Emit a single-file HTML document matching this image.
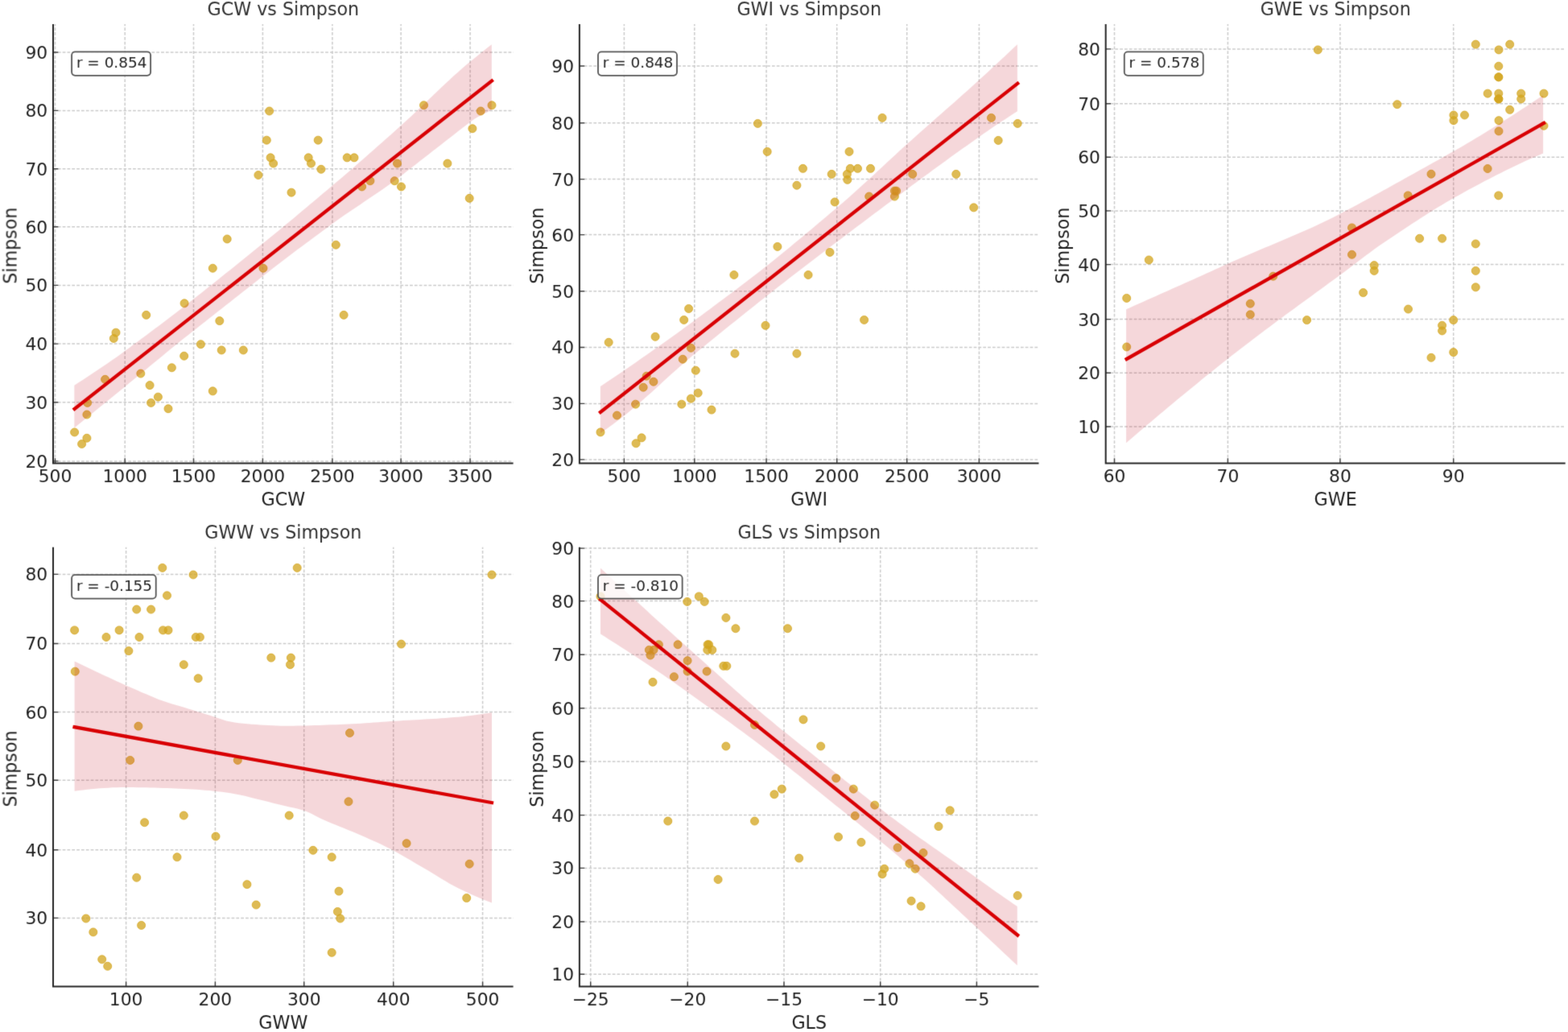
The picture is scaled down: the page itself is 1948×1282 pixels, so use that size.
<!DOCTYPE html>
<html><head><meta charset="utf-8"><title>Simpson correlations</title>
<style>
html,body{margin:0;padding:0;background:#fff;}
svg{display:block;}
text{font-family:"DejaVu Sans","Liberation Sans",sans-serif;}
</style></head><body>
<svg width="1948" height="1282" viewBox="0 0 1948 1282">
<defs><filter id="soft" x="0" y="0" width="1948" height="1282" filterUnits="userSpaceOnUse" color-interpolation-filters="sRGB"><feConvolveMatrix order="3" kernelMatrix="0.0113 0.0838 0.0113 0.0838 0.6193 0.0838 0.0113 0.0838 0.0113" edgeMode="duplicate"/></filter></defs>
<rect x="0" y="0" width="1948" height="1282" fill="#ffffff"/>
<g filter="url(#soft)">
<g>
<g stroke="#cbcbcb" stroke-width="1.5" stroke-dasharray="3.75 2.08">
<line x1="68.5" y1="575.6" x2="68.5" y2="30" stroke-dashoffset="4.56"/>
<line x1="155.2" y1="575.6" x2="155.2" y2="30" stroke-dashoffset="4.56"/>
<line x1="240.5" y1="575.6" x2="240.5" y2="30" stroke-dashoffset="4.56"/>
<line x1="326.4" y1="575.6" x2="326.4" y2="30" stroke-dashoffset="4.56"/>
<line x1="412.9" y1="575.6" x2="412.9" y2="30" stroke-dashoffset="4.56"/>
<line x1="498.1" y1="575.6" x2="498.1" y2="30" stroke-dashoffset="4.56"/>
<line x1="584.1" y1="575.6" x2="584.1" y2="30" stroke-dashoffset="4.56"/>
<line x1="66" y1="572.9" x2="637.6" y2="572.9"/>
<line x1="66" y1="499.8" x2="637.6" y2="499.8"/>
<line x1="66" y1="427.1" x2="637.6" y2="427.1"/>
<line x1="66" y1="354.4" x2="637.6" y2="354.4"/>
<line x1="66" y1="281.8" x2="637.6" y2="281.8"/>
<line x1="66" y1="209.7" x2="637.6" y2="209.7"/>
<line x1="66" y1="137.4" x2="637.6" y2="137.4"/>
<line x1="66" y1="65" x2="637.6" y2="65"/>
</g>
<g fill="#d4a520" fill-opacity="0.76" stroke="#d4a520" stroke-opacity="0.76" stroke-width="1.0">
<circle cx="92.6" cy="536.95" r="5.0"/>
<circle cx="101.6" cy="551.57" r="5.0"/>
<circle cx="107.9" cy="544.26" r="5.0"/>
<circle cx="107.9" cy="515.02" r="5.0"/>
<circle cx="108.6" cy="500.4" r="5.0"/>
<circle cx="130.6" cy="471.32" r="5.0"/>
<circle cx="141.3" cy="420.43" r="5.0"/>
<circle cx="144" cy="413.16" r="5.0"/>
<circle cx="181.7" cy="391.35" r="5.0"/>
<circle cx="174.8" cy="464.05" r="5.0"/>
<circle cx="186.1" cy="478.59" r="5.0"/>
<circle cx="196.4" cy="493.13" r="5.0"/>
<circle cx="187.6" cy="500.4" r="5.0"/>
<circle cx="209" cy="507.71" r="5.0"/>
<circle cx="213.4" cy="456.78" r="5.0"/>
<circle cx="228.7" cy="442.24" r="5.0"/>
<circle cx="229.1" cy="376.81" r="5.0"/>
<circle cx="249.4" cy="427.7" r="5.0"/>
<circle cx="264.3" cy="485.86" r="5.0"/>
<circle cx="272.8" cy="398.62" r="5.0"/>
<circle cx="275.2" cy="434.97" r="5.0"/>
<circle cx="302.3" cy="434.97" r="5.0"/>
<circle cx="264.3" cy="333.22" r="5.0"/>
<circle cx="327" cy="333.22" r="5.0"/>
<circle cx="334.6" cy="138" r="5.0"/>
<circle cx="331.3" cy="174.15" r="5.0"/>
<circle cx="336.1" cy="195.84" r="5.0"/>
<circle cx="339.6" cy="203.07" r="5.0"/>
<circle cx="320.9" cy="217.51" r="5.0"/>
<circle cx="282.2" cy="296.92" r="5.0"/>
<circle cx="362" cy="239.14" r="5.0"/>
<circle cx="395.2" cy="174.15" r="5.0"/>
<circle cx="383.2" cy="195.84" r="5.0"/>
<circle cx="386.5" cy="203.07" r="5.0"/>
<circle cx="398.9" cy="210.3" r="5.0"/>
<circle cx="431.2" cy="195.84" r="5.0"/>
<circle cx="440" cy="195.84" r="5.0"/>
<circle cx="449.6" cy="231.93" r="5.0"/>
<circle cx="459.9" cy="224.72" r="5.0"/>
<circle cx="417.3" cy="304.18" r="5.0"/>
<circle cx="493.5" cy="203.07" r="5.0"/>
<circle cx="490.2" cy="224.72" r="5.0"/>
<circle cx="498.5" cy="231.93" r="5.0"/>
<circle cx="526.5" cy="130.76" r="5.0"/>
<circle cx="555.9" cy="203.07" r="5.0"/>
<circle cx="583.2" cy="246.35" r="5.0"/>
<circle cx="586.9" cy="159.69" r="5.0"/>
<circle cx="597.2" cy="138" r="5.0"/>
<circle cx="611" cy="130.76" r="5.0"/>
<circle cx="427.1" cy="391.35" r="5.0"/>
</g>
<line x1="92.6" y1="507.94" x2="611" y2="100.44" stroke="#dd0000" stroke-width="4.3" stroke-linecap="square"/>
<polygon points="92.3,478.68 97.54,475.28 102.77,471.88 108.01,468.47 113.25,465.05 118.49,461.59 123.72,458.1 128.96,454.57 134.2,450.99 139.44,447.36 144.67,443.67 149.91,439.91 155.15,436.08 160.39,432.22 165.62,428.35 170.86,424.47 176.1,420.58 181.34,416.68 186.57,412.78 191.81,408.85 197.05,404.92 202.28,400.96 207.52,396.99 212.76,393 218,388.99 223.23,384.96 228.47,380.9 233.71,376.82 238.95,372.71 244.18,368.58 249.42,364.44 254.66,360.28 259.9,356.11 265.13,351.94 270.37,347.75 275.61,343.56 280.85,339.35 286.08,335.14 291.32,330.93 296.56,326.71 301.79,322.49 307.03,318.26 312.27,314.03 317.51,309.8 322.74,305.56 327.98,301.33 333.22,297.07 338.46,292.8 343.69,288.5 348.93,284.18 354.17,279.85 359.41,275.5 364.64,271.14 369.88,266.76 375.12,262.36 380.36,257.96 385.59,253.58 390.83,249.18 396.07,244.78 401.31,240.37 406.54,235.95 411.78,231.53 417.02,227.1 422.25,222.64 427.49,218.16 432.73,213.65 437.97,209.13 443.2,204.58 448.44,200.02 453.68,195.44 458.92,190.84 464.15,186.23 469.39,181.6 474.63,176.96 479.87,172.3 485.1,167.63 490.34,162.95 495.58,158.27 500.82,153.57 506.05,148.79 511.29,143.92 516.53,138.99 521.76,134.01 527,129 532.24,123.97 537.48,118.94 542.71,113.93 547.95,108.94 553.19,104.01 558.43,99.14 563.66,94.34 568.9,89.64 574.14,85.04 579.38,80.57 584.61,76.25 589.85,71.99 595.09,67.74 600.33,63.52 605.56,59.34 610.8,55.2 610.8,136.6 605.56,139.19 600.33,141.74 595.09,144.46 589.85,147.54 584.61,151.17 579.38,155.21 574.14,159.27 568.9,163.34 563.66,167.42 558.43,171.5 553.19,175.58 547.95,179.67 542.71,183.76 537.48,187.85 532.24,191.95 527,196.04 521.76,200.12 516.53,204.21 511.29,208.28 506.05,212.35 500.82,216.41 495.58,220.45 490.34,224.39 485.1,228.23 479.87,231.98 474.63,235.66 469.39,239.28 464.15,242.84 458.92,246.37 453.68,249.87 448.44,253.38 443.2,256.89 437.97,260.41 432.73,263.98 427.49,267.58 422.25,271.25 417.02,274.99 411.78,278.82 406.54,282.67 401.31,286.53 396.07,290.4 390.83,294.26 385.59,298.14 380.36,302.02 375.12,305.94 369.88,309.87 364.64,313.82 359.41,317.78 354.17,321.76 348.93,325.76 343.69,329.78 338.46,333.82 333.22,337.88 327.98,341.97 322.74,346.08 317.51,350.19 312.27,354.31 307.03,358.42 301.79,362.53 296.56,366.65 291.32,370.77 286.08,374.88 280.85,379.01 275.61,383.13 270.37,387.25 265.13,391.38 259.9,395.5 254.66,399.63 249.42,403.76 244.18,407.89 238.95,412.02 233.71,416.17 228.47,420.36 223.23,424.57 218,428.81 212.76,433.07 207.52,437.35 202.28,441.64 197.05,445.94 191.81,450.25 186.57,454.57 181.34,458.89 176.1,463.2 170.86,467.51 165.62,471.82 160.39,476.11 155.15,480.38 149.91,484.65 144.67,488.91 139.44,493.18 134.2,497.44 128.96,501.7 123.72,505.97 118.49,510.23 113.25,514.49 108.01,518.75 102.77,523.01 97.54,527.29 92.3,531.58" fill="rgb(192,5,24)" fill-opacity="0.16"/>
<path d="M68.5 575.6V569.3M155.2 575.6V569.3M240.5 575.6V569.3M326.4 575.6V569.3M412.9 575.6V569.3M498.1 575.6V569.3M584.1 575.6V569.3M66 572.9H72.3M66 499.8H72.3M66 427.1H72.3M66 354.4H72.3M66 281.8H72.3M66 209.7H72.3M66 137.4H72.3M66 65H72.3" stroke="#444444" stroke-width="1.4" fill="none"/>
<path d="M66 31 V575.6 H636.6" fill="none" stroke="#262626" stroke-width="2.0" stroke-linecap="square"/>
<text x="68.5" y="598.6" font-size="21.8" fill="#1e1e1e" text-anchor="middle">500</text>
<text x="155.2" y="598.6" font-size="21.8" fill="#1e1e1e" text-anchor="middle">1000</text>
<text x="240.5" y="598.6" font-size="21.8" fill="#1e1e1e" text-anchor="middle">1500</text>
<text x="326.4" y="598.6" font-size="21.8" fill="#1e1e1e" text-anchor="middle">2000</text>
<text x="412.9" y="598.6" font-size="21.8" fill="#1e1e1e" text-anchor="middle">2500</text>
<text x="498.1" y="598.6" font-size="21.8" fill="#1e1e1e" text-anchor="middle">3000</text>
<text x="584.1" y="598.6" font-size="21.8" fill="#1e1e1e" text-anchor="middle">3500</text>
<text x="59.2" y="580.8" font-size="21.8" fill="#1e1e1e" text-anchor="end">20</text>
<text x="59.2" y="507.7" font-size="21.8" fill="#1e1e1e" text-anchor="end">30</text>
<text x="59.2" y="435" font-size="21.8" fill="#1e1e1e" text-anchor="end">40</text>
<text x="59.2" y="362.3" font-size="21.8" fill="#1e1e1e" text-anchor="end">50</text>
<text x="59.2" y="289.7" font-size="21.8" fill="#1e1e1e" text-anchor="end">60</text>
<text x="59.2" y="217.6" font-size="21.8" fill="#1e1e1e" text-anchor="end">70</text>
<text x="59.2" y="145.3" font-size="21.8" fill="#1e1e1e" text-anchor="end">80</text>
<text x="59.2" y="72.9" font-size="21.8" fill="#1e1e1e" text-anchor="end">90</text>
<text x="351.8" y="18.8" font-size="22.2" fill="#303030" text-anchor="middle">GCW vs Simpson</text>
<text x="351.8" y="627.8" font-size="22.2" fill="#1e1e1e" text-anchor="middle">GCW</text>
<text transform="translate(20.6 305.2) rotate(-90)" font-size="22.2" fill="#1e1e1e" text-anchor="middle">Simpson</text>
<rect x="89.1" y="64.3" width="97.99" height="29.5" rx="4.2" ry="4.2" fill="#ffffff" fill-opacity="0.8" stroke="#555555" stroke-width="1.8"/>
<text x="94.9" y="84" font-size="18.45" fill="#222222">r = 0.854</text>
</g>
<g>
<g stroke="#cbcbcb" stroke-width="1.5" stroke-dasharray="3.75 2.08">
<line x1="775.4" y1="575.6" x2="775.4" y2="30" stroke-dashoffset="4.56"/>
<line x1="862.8" y1="575.6" x2="862.8" y2="30" stroke-dashoffset="4.56"/>
<line x1="952.1" y1="575.6" x2="952.1" y2="30" stroke-dashoffset="4.56"/>
<line x1="1039.7" y1="575.6" x2="1039.7" y2="30" stroke-dashoffset="4.56"/>
<line x1="1126.7" y1="575.6" x2="1126.7" y2="30" stroke-dashoffset="4.56"/>
<line x1="1216.4" y1="575.6" x2="1216.4" y2="30" stroke-dashoffset="4.56"/>
<line x1="719.9" y1="570.9" x2="1290.5" y2="570.9"/>
<line x1="719.9" y1="501.4" x2="1290.5" y2="501.4"/>
<line x1="719.9" y1="431.5" x2="1290.5" y2="431.5"/>
<line x1="719.9" y1="361.8" x2="1290.5" y2="361.8"/>
<line x1="719.9" y1="291.6" x2="1290.5" y2="291.6"/>
<line x1="719.9" y1="222.6" x2="1290.5" y2="222.6"/>
<line x1="719.9" y1="152.7" x2="1290.5" y2="152.7"/>
<line x1="719.9" y1="82" x2="1290.5" y2="82"/>
</g>
<g fill="#d4a520" fill-opacity="0.76" stroke="#d4a520" stroke-opacity="0.76" stroke-width="1.0">
<circle cx="746" cy="536.9" r="5.0"/>
<circle cx="766.5" cy="516.05" r="5.0"/>
<circle cx="756.2" cy="425.28" r="5.0"/>
<circle cx="790.1" cy="550.8" r="5.0"/>
<circle cx="797.1" cy="543.85" r="5.0"/>
<circle cx="789.6" cy="502.15" r="5.0"/>
<circle cx="799.2" cy="481.18" r="5.0"/>
<circle cx="811.9" cy="474.19" r="5.0"/>
<circle cx="803.2" cy="467.2" r="5.0"/>
<circle cx="814.1" cy="418.31" r="5.0"/>
<circle cx="846.8" cy="502.15" r="5.0"/>
<circle cx="858.4" cy="495.16" r="5.0"/>
<circle cx="867.2" cy="488.17" r="5.0"/>
<circle cx="884" cy="509.1" r="5.0"/>
<circle cx="864.3" cy="460.21" r="5.0"/>
<circle cx="848.2" cy="446.23" r="5.0"/>
<circle cx="858.4" cy="432.25" r="5.0"/>
<circle cx="849.7" cy="397.4" r="5.0"/>
<circle cx="855.6" cy="383.46" r="5.0"/>
<circle cx="913" cy="439.24" r="5.0"/>
<circle cx="911.9" cy="341.49" r="5.0"/>
<circle cx="951" cy="404.37" r="5.0"/>
<circle cx="989.9" cy="439.24" r="5.0"/>
<circle cx="965.9" cy="306.39" r="5.0"/>
<circle cx="1004.1" cy="341.49" r="5.0"/>
<circle cx="941.4" cy="153.45" r="5.0"/>
<circle cx="953.2" cy="188.4" r="5.0"/>
<circle cx="997.5" cy="209.37" r="5.0"/>
<circle cx="989.9" cy="230.25" r="5.0"/>
<circle cx="1033.2" cy="216.36" r="5.0"/>
<circle cx="1055" cy="188.4" r="5.0"/>
<circle cx="1056.3" cy="209.37" r="5.0"/>
<circle cx="1065.5" cy="209.37" r="5.0"/>
<circle cx="1081.5" cy="209.37" r="5.0"/>
<circle cx="1052.4" cy="216.36" r="5.0"/>
<circle cx="1052.8" cy="223.35" r="5.0"/>
<circle cx="1037.1" cy="250.95" r="5.0"/>
<circle cx="1079.7" cy="244.05" r="5.0"/>
<circle cx="1111.4" cy="237.15" r="5.0"/>
<circle cx="1113.6" cy="237.15" r="5.0"/>
<circle cx="1111.4" cy="244.05" r="5.0"/>
<circle cx="1096.1" cy="146.38" r="5.0"/>
<circle cx="1133.7" cy="216.36" r="5.0"/>
<circle cx="1187.8" cy="216.36" r="5.0"/>
<circle cx="1209.7" cy="257.85" r="5.0"/>
<circle cx="1231.5" cy="146.38" r="5.0"/>
<circle cx="1264.2" cy="153.45" r="5.0"/>
<circle cx="1240.2" cy="174.42" r="5.0"/>
<circle cx="1031" cy="313.41" r="5.0"/>
<circle cx="1073.6" cy="397.4" r="5.0"/>
</g>
<line x1="746" y1="512.01" x2="1264.2" y2="103.66" stroke="#dd0000" stroke-width="4.3" stroke-linecap="square"/>
<polygon points="745.9,479.99 751.13,476.54 756.36,473.09 761.6,469.61 766.83,466.08 772.06,462.51 777.29,458.9 782.53,455.27 787.76,451.64 792.99,448.01 798.22,444.36 803.46,440.7 808.69,437.04 813.92,433.36 819.15,429.66 824.38,425.95 829.62,422.22 834.85,418.47 840.08,414.7 845.31,410.91 850.55,407.1 855.78,403.27 861.01,399.42 866.24,395.54 871.48,391.66 876.71,387.78 881.94,383.9 887.17,380.02 892.41,376.12 897.64,372.22 902.87,368.31 908.1,364.39 913.33,360.46 918.57,356.51 923.8,352.54 929.03,348.55 934.26,344.54 939.5,340.49 944.73,336.39 949.96,332.28 955.19,328.13 960.43,323.95 965.66,319.74 970.89,315.49 976.12,311.22 981.35,306.93 986.59,302.61 991.82,298.27 997.05,293.91 1002.28,289.53 1007.52,285.14 1012.75,280.73 1017.98,276.31 1023.21,271.88 1028.45,267.49 1033.68,263.11 1038.91,258.74 1044.14,254.32 1049.37,249.81 1054.61,245.23 1059.84,240.58 1065.07,235.87 1070.3,231.11 1075.54,226.31 1080.77,221.48 1086,216.63 1091.23,211.77 1096.47,206.91 1101.7,202.05 1106.93,197.22 1112.16,192.41 1117.39,187.6 1122.63,182.82 1127.86,178.09 1133.09,173.4 1138.32,168.73 1143.56,164.08 1148.79,159.44 1154.02,154.81 1159.25,150.19 1164.49,145.58 1169.72,140.97 1174.95,136.36 1180.18,131.75 1185.42,127.13 1190.65,122.51 1195.88,117.87 1201.11,113.21 1206.34,108.51 1211.58,103.77 1216.81,99 1222.04,94.21 1227.27,89.39 1232.51,84.56 1237.74,79.7 1242.97,74.83 1248.2,69.94 1253.44,65.03 1258.67,60.12 1263.9,55.2 1263.9,138.2 1258.67,141.59 1253.44,144.99 1248.2,148.41 1242.97,151.86 1237.74,155.33 1232.51,158.85 1227.27,162.41 1222.04,166.03 1216.81,169.7 1211.58,173.42 1206.34,177.16 1201.11,180.89 1195.88,184.61 1190.65,188.34 1185.42,192.09 1180.18,195.85 1174.95,199.63 1169.72,203.42 1164.49,207.22 1159.25,211.05 1154.02,214.88 1148.79,218.73 1143.56,222.6 1138.32,226.48 1133.09,230.37 1127.86,234.28 1122.63,238.2 1117.39,242.14 1112.16,246.06 1106.93,249.96 1101.7,253.86 1096.47,257.77 1091.23,261.69 1086,265.61 1080.77,269.54 1075.54,273.48 1070.3,277.42 1065.07,281.36 1059.84,285.31 1054.61,289.25 1049.37,293.2 1044.14,297.15 1038.91,301.11 1033.68,305.05 1028.45,309 1023.21,312.96 1017.98,316.97 1012.75,320.98 1007.52,324.99 1002.28,329 997.05,333.01 991.82,337.04 986.59,341.07 981.35,345.11 976.12,349.17 970.89,353.23 965.66,357.32 960.43,361.42 955.19,365.54 949.96,369.68 944.73,373.84 939.5,378.01 934.26,382.18 929.03,386.34 923.8,390.52 918.57,394.71 913.33,398.91 908.1,403.12 902.87,407.34 897.64,411.57 892.41,415.81 887.17,420.05 881.94,424.3 876.71,428.56 871.48,432.82 866.24,437.08 861.01,441.36 855.78,445.73 850.55,450.2 845.31,454.77 840.08,459.41 834.85,464.11 829.62,468.85 824.38,473.61 819.15,478.38 813.92,483.14 808.69,487.88 803.46,492.57 798.22,497.21 792.99,501.78 787.76,506.25 782.53,510.63 777.29,514.88 772.06,518.99 766.83,522.99 761.6,526.89 756.36,530.69 751.13,534.41 745.9,538.09" fill="rgb(192,5,24)" fill-opacity="0.16"/>
<path d="M775.4 575.6V569.3M862.8 575.6V569.3M952.1 575.6V569.3M1039.7 575.6V569.3M1126.7 575.6V569.3M1216.4 575.6V569.3M719.9 570.9H726.2M719.9 501.4H726.2M719.9 431.5H726.2M719.9 361.8H726.2M719.9 291.6H726.2M719.9 222.6H726.2M719.9 152.7H726.2M719.9 82H726.2" stroke="#444444" stroke-width="1.4" fill="none"/>
<path d="M719.9 31 V575.6 H1289.5" fill="none" stroke="#262626" stroke-width="2.0" stroke-linecap="square"/>
<text x="775.4" y="598.6" font-size="21.8" fill="#1e1e1e" text-anchor="middle">500</text>
<text x="862.8" y="598.6" font-size="21.8" fill="#1e1e1e" text-anchor="middle">1000</text>
<text x="952.1" y="598.6" font-size="21.8" fill="#1e1e1e" text-anchor="middle">1500</text>
<text x="1039.7" y="598.6" font-size="21.8" fill="#1e1e1e" text-anchor="middle">2000</text>
<text x="1126.7" y="598.6" font-size="21.8" fill="#1e1e1e" text-anchor="middle">2500</text>
<text x="1216.4" y="598.6" font-size="21.8" fill="#1e1e1e" text-anchor="middle">3000</text>
<text x="713.1" y="578.8" font-size="21.8" fill="#1e1e1e" text-anchor="end">20</text>
<text x="713.1" y="509.3" font-size="21.8" fill="#1e1e1e" text-anchor="end">30</text>
<text x="713.1" y="439.4" font-size="21.8" fill="#1e1e1e" text-anchor="end">40</text>
<text x="713.1" y="369.7" font-size="21.8" fill="#1e1e1e" text-anchor="end">50</text>
<text x="713.1" y="299.5" font-size="21.8" fill="#1e1e1e" text-anchor="end">60</text>
<text x="713.1" y="230.5" font-size="21.8" fill="#1e1e1e" text-anchor="end">70</text>
<text x="713.1" y="160.6" font-size="21.8" fill="#1e1e1e" text-anchor="end">80</text>
<text x="713.1" y="89.9" font-size="21.8" fill="#1e1e1e" text-anchor="end">90</text>
<text x="1005.2" y="18.8" font-size="22.2" fill="#303030" text-anchor="middle">GWI vs Simpson</text>
<text x="1005.2" y="627.8" font-size="22.2" fill="#1e1e1e" text-anchor="middle">GWI</text>
<text transform="translate(674.5 305.2) rotate(-90)" font-size="22.2" fill="#1e1e1e" text-anchor="middle">Simpson</text>
<rect x="743" y="64.3" width="97.99" height="29.5" rx="4.2" ry="4.2" fill="#ffffff" fill-opacity="0.8" stroke="#555555" stroke-width="1.8"/>
<text x="748.8" y="84" font-size="18.45" fill="#222222">r = 0.848</text>
</g>
<g>
<g stroke="#cbcbcb" stroke-width="1.5" stroke-dasharray="3.75 2.08">
<line x1="1384.5" y1="575.6" x2="1384.5" y2="30" stroke-dashoffset="4.56"/>
<line x1="1525.4" y1="575.6" x2="1525.4" y2="30" stroke-dashoffset="4.56"/>
<line x1="1664.9" y1="575.6" x2="1664.9" y2="30" stroke-dashoffset="4.56"/>
<line x1="1805.7" y1="575.6" x2="1805.7" y2="30" stroke-dashoffset="4.56"/>
<line x1="1373.7" y1="530" x2="1944.7" y2="530"/>
<line x1="1373.7" y1="463.3" x2="1944.7" y2="463.3"/>
<line x1="1373.7" y1="396.6" x2="1944.7" y2="396.6"/>
<line x1="1373.7" y1="328.6" x2="1944.7" y2="328.6"/>
<line x1="1373.7" y1="261.9" x2="1944.7" y2="261.9"/>
<line x1="1373.7" y1="195.2" x2="1944.7" y2="195.2"/>
<line x1="1373.7" y1="128.7" x2="1944.7" y2="128.7"/>
<line x1="1373.7" y1="60.9" x2="1944.7" y2="60.9"/>
</g>
<g fill="#d4a520" fill-opacity="0.76" stroke="#d4a520" stroke-opacity="0.76" stroke-width="1.0">
<circle cx="1427.3" cy="322.93" r="5.0"/>
<circle cx="1399.7" cy="370.4" r="5.0"/>
<circle cx="1399.7" cy="430.95" r="5.0"/>
<circle cx="1581.7" cy="343.2" r="5.0"/>
<circle cx="1553.3" cy="377.2" r="5.0"/>
<circle cx="1553.3" cy="390.8" r="5.0"/>
<circle cx="1623.6" cy="397.6" r="5.0"/>
<circle cx="1637.3" cy="61.9" r="5.0"/>
<circle cx="1735.8" cy="129.7" r="5.0"/>
<circle cx="1833.3" cy="55.12" r="5.0"/>
<circle cx="1862" cy="61.9" r="5.0"/>
<circle cx="1875.7" cy="55.12" r="5.0"/>
<circle cx="1861.8" cy="82.24" r="5.0"/>
<circle cx="1861.8" cy="95.8" r="5.0"/>
<circle cx="1861.8" cy="95.8" r="5.0"/>
<circle cx="1848.2" cy="116.14" r="5.0"/>
<circle cx="1861.8" cy="116.14" r="5.0"/>
<circle cx="1861.8" cy="122.92" r="5.0"/>
<circle cx="1861.8" cy="122.92" r="5.0"/>
<circle cx="1861.8" cy="122.92" r="5.0"/>
<circle cx="1889.7" cy="116.14" r="5.0"/>
<circle cx="1889.7" cy="122.92" r="5.0"/>
<circle cx="1918" cy="116.14" r="5.0"/>
<circle cx="1805.9" cy="143" r="5.0"/>
<circle cx="1805.9" cy="149.65" r="5.0"/>
<circle cx="1819.5" cy="143" r="5.0"/>
<circle cx="1875.7" cy="136.35" r="5.0"/>
<circle cx="1862" cy="149.65" r="5.0"/>
<circle cx="1862" cy="162.95" r="5.0"/>
<circle cx="1918" cy="156.3" r="5.0"/>
<circle cx="1778" cy="216.21" r="5.0"/>
<circle cx="1848.1" cy="209.54" r="5.0"/>
<circle cx="1749.2" cy="242.89" r="5.0"/>
<circle cx="1861.7" cy="242.89" r="5.0"/>
<circle cx="1679.5" cy="282.91" r="5.0"/>
<circle cx="1763.6" cy="296.25" r="5.0"/>
<circle cx="1791.6" cy="296.25" r="5.0"/>
<circle cx="1833.3" cy="302.92" r="5.0"/>
<circle cx="1679.5" cy="316.26" r="5.0"/>
<circle cx="1707.2" cy="329.6" r="5.0"/>
<circle cx="1707.2" cy="336.4" r="5.0"/>
<circle cx="1693.6" cy="363.6" r="5.0"/>
<circle cx="1749.5" cy="384" r="5.0"/>
<circle cx="1805.7" cy="397.6" r="5.0"/>
<circle cx="1791.6" cy="404.27" r="5.0"/>
<circle cx="1791.6" cy="410.94" r="5.0"/>
<circle cx="1805.7" cy="437.62" r="5.0"/>
<circle cx="1778" cy="444.29" r="5.0"/>
<circle cx="1833.3" cy="336.4" r="5.0"/>
<circle cx="1833.3" cy="356.8" r="5.0"/>
</g>
<line x1="1399.7" y1="445.98" x2="1918" y2="152.98" stroke="#dd0000" stroke-width="4.3" stroke-linecap="square"/>
<polygon points="1399.1,384.32 1404.33,381.97 1409.56,379.62 1414.8,377.27 1420.03,374.93 1425.26,372.59 1430.49,370.24 1435.73,367.9 1440.96,365.57 1446.19,363.23 1451.42,360.89 1456.66,358.56 1461.89,356.23 1467.12,353.9 1472.35,351.57 1477.58,349.24 1482.82,346.91 1488.05,344.58 1493.28,342.2 1498.51,339.82 1503.75,337.44 1508.98,335.06 1514.21,332.69 1519.44,330.31 1524.68,327.94 1529.91,325.58 1535.14,323.26 1540.37,320.97 1545.61,318.7 1550.84,316.46 1556.07,314.23 1561.3,312.01 1566.53,309.81 1571.77,307.61 1577,305.41 1582.23,303.21 1587.46,301.01 1592.7,298.79 1597.93,296.56 1603.16,294.31 1608.39,292.06 1613.63,289.82 1618.86,287.54 1624.09,285.23 1629.32,282.88 1634.55,280.49 1639.79,278.05 1645.02,275.56 1650.25,273.02 1655.48,270.41 1660.72,267.74 1665.95,265.01 1671.18,262.25 1676.41,259.47 1681.65,256.68 1686.88,253.89 1692.11,251.08 1697.34,248.25 1702.57,245.41 1707.81,242.56 1713.04,239.69 1718.27,236.8 1723.5,233.89 1728.74,230.99 1733.97,228.08 1739.2,225.17 1744.43,222.26 1749.67,219.35 1754.9,216.43 1760.13,213.52 1765.36,210.6 1770.59,207.67 1775.83,204.75 1781.06,201.82 1786.29,198.89 1791.52,195.95 1796.76,193.02 1801.99,190.08 1807.22,187.13 1812.45,184.15 1817.69,181.13 1822.92,178.07 1828.15,174.98 1833.38,171.85 1838.62,168.68 1843.85,165.48 1849.08,162.26 1854.31,159.01 1859.54,155.74 1864.78,152.44 1870.01,149.11 1875.24,145.76 1880.47,142.39 1885.71,139.01 1890.94,135.6 1896.17,132.18 1901.4,128.75 1906.64,125.31 1911.87,121.85 1917.1,118.39 1917.1,190.39 1911.87,192.63 1906.64,194.91 1901.4,197.24 1896.17,199.61 1890.94,202.02 1885.71,204.47 1880.47,206.95 1875.24,209.48 1870.01,212.04 1864.78,214.64 1859.54,217.28 1854.31,219.94 1849.08,222.64 1843.85,225.37 1838.62,228.14 1833.38,230.94 1828.15,233.76 1822.92,236.62 1817.69,239.5 1812.45,242.4 1807.22,245.33 1801.99,248.3 1796.76,251.33 1791.52,254.43 1786.29,257.59 1781.06,260.81 1775.83,264.07 1770.59,267.38 1765.36,270.74 1760.13,274.13 1754.9,277.55 1749.67,281 1744.43,284.47 1739.2,287.96 1733.97,291.46 1728.74,294.97 1723.5,298.49 1718.27,302.01 1713.04,305.62 1707.81,309.35 1702.57,313.16 1697.34,317.05 1692.11,320.99 1686.88,324.96 1681.65,328.94 1676.41,332.92 1671.18,336.88 1665.95,340.79 1660.72,344.65 1655.48,348.5 1650.25,352.35 1645.02,356.18 1639.79,360 1634.55,363.82 1629.32,367.64 1624.09,371.45 1618.86,375.26 1613.63,379.07 1608.39,382.88 1603.16,386.72 1597.93,390.6 1592.7,394.48 1587.46,398.37 1582.23,402.27 1577,406.18 1571.77,410.11 1566.53,414.04 1561.3,418 1556.07,421.96 1550.84,425.95 1545.61,429.96 1540.37,433.99 1535.14,438.04 1529.91,442.11 1524.68,446.22 1519.44,450.34 1514.21,454.5 1508.98,458.68 1503.75,462.88 1498.51,467.11 1493.28,471.36 1488.05,475.63 1482.82,479.88 1477.58,484.14 1472.35,488.42 1467.12,492.72 1461.89,497.05 1456.66,501.39 1451.42,505.75 1446.19,510.13 1440.96,514.53 1435.73,518.95 1430.49,523.38 1425.26,527.83 1420.03,532.3 1414.8,536.78 1409.56,541.28 1404.33,545.79 1399.1,550.32" fill="rgb(192,5,24)" fill-opacity="0.16"/>
<path d="M1384.5 575.6V569.3M1525.4 575.6V569.3M1664.9 575.6V569.3M1805.7 575.6V569.3M1373.7 530H1380M1373.7 463.3H1380M1373.7 396.6H1380M1373.7 328.6H1380M1373.7 261.9H1380M1373.7 195.2H1380M1373.7 128.7H1380M1373.7 60.9H1380" stroke="#444444" stroke-width="1.4" fill="none"/>
<path d="M1373.7 31 V575.6 H1943.7" fill="none" stroke="#262626" stroke-width="2.0" stroke-linecap="square"/>
<text x="1384.5" y="598.6" font-size="21.8" fill="#1e1e1e" text-anchor="middle">60</text>
<text x="1525.4" y="598.6" font-size="21.8" fill="#1e1e1e" text-anchor="middle">70</text>
<text x="1664.9" y="598.6" font-size="21.8" fill="#1e1e1e" text-anchor="middle">80</text>
<text x="1805.7" y="598.6" font-size="21.8" fill="#1e1e1e" text-anchor="middle">90</text>
<text x="1366.9" y="537.9" font-size="21.8" fill="#1e1e1e" text-anchor="end">10</text>
<text x="1366.9" y="471.2" font-size="21.8" fill="#1e1e1e" text-anchor="end">20</text>
<text x="1366.9" y="404.5" font-size="21.8" fill="#1e1e1e" text-anchor="end">30</text>
<text x="1366.9" y="336.5" font-size="21.8" fill="#1e1e1e" text-anchor="end">40</text>
<text x="1366.9" y="269.8" font-size="21.8" fill="#1e1e1e" text-anchor="end">50</text>
<text x="1366.9" y="203.1" font-size="21.8" fill="#1e1e1e" text-anchor="end">60</text>
<text x="1366.9" y="136.6" font-size="21.8" fill="#1e1e1e" text-anchor="end">70</text>
<text x="1366.9" y="68.8" font-size="21.8" fill="#1e1e1e" text-anchor="end">80</text>
<text x="1659.2" y="18.8" font-size="22.2" fill="#303030" text-anchor="middle">GWE vs Simpson</text>
<text x="1659.2" y="627.8" font-size="22.2" fill="#1e1e1e" text-anchor="middle">GWE</text>
<text transform="translate(1328.3 305.2) rotate(-90)" font-size="22.2" fill="#1e1e1e" text-anchor="middle">Simpson</text>
<rect x="1396.8" y="64.3" width="97.99" height="29.5" rx="4.2" ry="4.2" fill="#ffffff" fill-opacity="0.8" stroke="#555555" stroke-width="1.8"/>
<text x="1402.6" y="84" font-size="18.45" fill="#222222">r = 0.578</text>
</g>
<g>
<g stroke="#cbcbcb" stroke-width="1.5" stroke-dasharray="3.75 2.08">
<line x1="156.6" y1="1225.5" x2="156.6" y2="679.8" stroke-dashoffset="4.56"/>
<line x1="267.4" y1="1225.5" x2="267.4" y2="679.8" stroke-dashoffset="4.56"/>
<line x1="377.7" y1="1225.5" x2="377.7" y2="679.8" stroke-dashoffset="4.56"/>
<line x1="488.7" y1="1225.5" x2="488.7" y2="679.8" stroke-dashoffset="4.56"/>
<line x1="599.6" y1="1225.5" x2="599.6" y2="679.8" stroke-dashoffset="4.56"/>
<line x1="66" y1="1140.4" x2="637.6" y2="1140.4"/>
<line x1="66" y1="1055.7" x2="637.6" y2="1055.7"/>
<line x1="66" y1="969.2" x2="637.6" y2="969.2"/>
<line x1="66" y1="884.6" x2="637.6" y2="884.6"/>
<line x1="66" y1="799.5" x2="637.6" y2="799.5"/>
<line x1="66" y1="713.4" x2="637.6" y2="713.4"/>
</g>
<g fill="#d4a520" fill-opacity="0.76" stroke="#d4a520" stroke-opacity="0.76" stroke-width="1.0">
<circle cx="92.6" cy="782.88" r="5.0"/>
<circle cx="93.3" cy="834.14" r="5.0"/>
<circle cx="132" cy="791.49" r="5.0"/>
<circle cx="148.1" cy="782.88" r="5.0"/>
<circle cx="159.9" cy="808.61" r="5.0"/>
<circle cx="169.7" cy="757.05" r="5.0"/>
<circle cx="173" cy="791.49" r="5.0"/>
<circle cx="187.6" cy="757.05" r="5.0"/>
<circle cx="201.8" cy="705.39" r="5.0"/>
<circle cx="207.5" cy="739.83" r="5.0"/>
<circle cx="202.5" cy="782.88" r="5.0"/>
<circle cx="209" cy="782.88" r="5.0"/>
<circle cx="240.1" cy="714" r="5.0"/>
<circle cx="243.3" cy="791.49" r="5.0"/>
<circle cx="248.4" cy="791.49" r="5.0"/>
<circle cx="228.3" cy="825.63" r="5.0"/>
<circle cx="246.2" cy="842.65" r="5.0"/>
<circle cx="171.9" cy="902.12" r="5.0"/>
<circle cx="161.7" cy="944.42" r="5.0"/>
<circle cx="295.3" cy="944.42" r="5.0"/>
<circle cx="336.8" cy="817.12" r="5.0"/>
<circle cx="369.2" cy="705.39" r="5.0"/>
<circle cx="361.4" cy="817.12" r="5.0"/>
<circle cx="360.5" cy="825.63" r="5.0"/>
<circle cx="498.5" cy="800.1" r="5.0"/>
<circle cx="611" cy="714" r="5.0"/>
<circle cx="434.5" cy="910.58" r="5.0"/>
<circle cx="179.6" cy="1021.7" r="5.0"/>
<circle cx="228.3" cy="1013.05" r="5.0"/>
<circle cx="268" cy="1039" r="5.0"/>
<circle cx="220" cy="1064.77" r="5.0"/>
<circle cx="169.7" cy="1090.18" r="5.0"/>
<circle cx="306.9" cy="1098.65" r="5.0"/>
<circle cx="318.2" cy="1124.06" r="5.0"/>
<circle cx="106.8" cy="1141" r="5.0"/>
<circle cx="115.8" cy="1157.94" r="5.0"/>
<circle cx="175.6" cy="1149.47" r="5.0"/>
<circle cx="126.7" cy="1191.82" r="5.0"/>
<circle cx="133.7" cy="1200.29" r="5.0"/>
<circle cx="359.2" cy="1013.05" r="5.0"/>
<circle cx="433" cy="995.75" r="5.0"/>
<circle cx="388.9" cy="1056.3" r="5.0"/>
<circle cx="412.2" cy="1064.77" r="5.0"/>
<circle cx="505.1" cy="1047.65" r="5.0"/>
<circle cx="583.2" cy="1073.24" r="5.0"/>
<circle cx="421" cy="1107.12" r="5.0"/>
<circle cx="419.4" cy="1132.53" r="5.0"/>
<circle cx="422.7" cy="1141" r="5.0"/>
<circle cx="579.7" cy="1115.59" r="5.0"/>
<circle cx="412.2" cy="1183.35" r="5.0"/>
</g>
<line x1="92.6" y1="903.24" x2="611" y2="997.12" stroke="#dd0000" stroke-width="4.3" stroke-linecap="square"/>
<polygon points="92.6,821.5 97.84,824.04 103.07,826.57 108.31,829.07 113.55,831.56 118.78,834.03 124.02,836.48 129.25,838.92 134.49,841.34 139.73,843.74 144.96,846.13 150.2,848.51 155.44,850.88 160.67,853.23 165.91,855.56 171.15,857.87 176.38,860.14 181.62,862.37 186.85,864.59 192.09,866.79 197.33,868.89 202.56,870.81 207.8,872.55 213.04,874.17 218.27,875.73 223.51,877.26 228.75,878.81 233.98,880.41 239.22,882.04 244.45,883.67 249.69,885.31 254.93,886.95 260.16,888.59 265.4,890.23 270.64,891.95 275.87,893.81 281.11,895.45 286.35,896.55 291.58,897.4 296.82,898.13 302.05,898.74 307.29,899.24 312.53,899.64 317.76,900.02 323,900.38 328.24,900.72 333.47,901.02 338.71,901.28 343.95,901.49 349.18,901.63 354.42,901.7 359.65,901.69 364.89,901.66 370.13,901.59 375.36,901.5 380.6,901.39 385.84,901.25 391.07,901.1 396.31,900.93 401.55,900.75 406.78,900.55 412.02,900.35 417.25,900.14 422.49,899.93 427.73,899.71 432.96,899.5 438.2,899.27 443.44,898.99 448.67,898.68 453.91,898.34 459.15,897.98 464.38,897.61 469.62,897.23 474.85,896.84 480.09,896.47 485.33,896.1 490.56,895.75 495.8,895.42 501.04,895.1 506.27,894.79 511.51,894.49 516.75,894.19 521.98,893.9 527.22,893.59 532.45,893.28 537.69,892.96 542.93,892.63 548.16,892.28 553.4,891.91 558.64,891.51 563.87,891.09 569.11,890.64 574.35,890.13 579.58,889.56 584.82,888.94 590.05,888.27 595.29,887.57 600.53,886.83 605.76,886.07 611,885.3 611,1121.4 605.76,1119.48 600.53,1117.45 595.29,1115.31 590.05,1113.07 584.82,1110.74 579.58,1108.32 574.35,1105.83 569.11,1103.25 563.87,1100.55 558.64,1097.64 553.4,1094.58 548.16,1091.42 542.93,1088.21 537.69,1085.01 532.45,1081.86 527.22,1078.81 521.98,1075.75 516.75,1072.67 511.51,1069.58 506.27,1066.51 501.04,1063.47 495.8,1060.5 490.56,1057.6 485.33,1054.81 480.09,1052.15 474.85,1049.59 469.62,1047.12 464.38,1044.72 459.15,1042.39 453.91,1040.09 448.67,1037.83 443.44,1035.58 438.2,1033.34 432.96,1031.13 427.73,1028.99 422.49,1026.9 417.25,1024.82 412.02,1022.71 406.78,1020.55 401.55,1018.3 396.31,1015.83 391.07,1013.08 385.84,1010.35 380.6,1008 375.36,1006.25 370.13,1004.81 364.89,1003.56 359.65,1002.4 354.42,1001.24 349.18,1000 343.95,998.69 338.71,997.39 333.47,996.09 328.24,994.83 323,993.56 317.76,992.25 312.53,990.93 307.29,989.62 302.05,988.37 296.82,987.21 291.58,986.17 286.35,985.28 281.11,984.55 275.87,983.87 270.64,983.24 265.4,982.65 260.16,982.11 254.93,981.63 249.69,981.2 244.45,980.83 239.22,980.52 233.98,980.23 228.75,979.96 223.51,979.71 218.27,979.48 213.04,979.27 207.8,979.07 202.56,978.89 197.33,978.73 192.09,978.59 186.85,978.46 181.62,978.35 176.38,978.25 171.15,978.15 165.91,978.07 160.67,978.01 155.44,978 150.2,978.06 144.96,978.18 139.73,978.37 134.49,978.63 129.25,978.96 124.02,979.34 118.78,979.79 113.55,980.29 108.31,980.84 103.07,981.45 97.84,982.1 92.6,982.8" fill="rgb(192,5,24)" fill-opacity="0.16"/>
<path d="M156.6 1225.5V1219.2M267.4 1225.5V1219.2M377.7 1225.5V1219.2M488.7 1225.5V1219.2M599.6 1225.5V1219.2M66 1140.4H72.3M66 1055.7H72.3M66 969.2H72.3M66 884.6H72.3M66 799.5H72.3M66 713.4H72.3" stroke="#444444" stroke-width="1.4" fill="none"/>
<path d="M66 680.8 V1225.5 H636.6" fill="none" stroke="#262626" stroke-width="2.0" stroke-linecap="square"/>
<text x="156.6" y="1248.5" font-size="21.8" fill="#1e1e1e" text-anchor="middle">100</text>
<text x="267.4" y="1248.5" font-size="21.8" fill="#1e1e1e" text-anchor="middle">200</text>
<text x="377.7" y="1248.5" font-size="21.8" fill="#1e1e1e" text-anchor="middle">300</text>
<text x="488.7" y="1248.5" font-size="21.8" fill="#1e1e1e" text-anchor="middle">400</text>
<text x="599.6" y="1248.5" font-size="21.8" fill="#1e1e1e" text-anchor="middle">500</text>
<text x="59.2" y="1148.3" font-size="21.8" fill="#1e1e1e" text-anchor="end">30</text>
<text x="59.2" y="1063.6" font-size="21.8" fill="#1e1e1e" text-anchor="end">40</text>
<text x="59.2" y="977.1" font-size="21.8" fill="#1e1e1e" text-anchor="end">50</text>
<text x="59.2" y="892.5" font-size="21.8" fill="#1e1e1e" text-anchor="end">60</text>
<text x="59.2" y="807.4" font-size="21.8" fill="#1e1e1e" text-anchor="end">70</text>
<text x="59.2" y="721.3" font-size="21.8" fill="#1e1e1e" text-anchor="end">80</text>
<text x="351.8" y="669.2" font-size="22.2" fill="#303030" text-anchor="middle">GWW vs Simpson</text>
<text x="351.8" y="1277.7" font-size="22.2" fill="#1e1e1e" text-anchor="middle">GWW</text>
<text transform="translate(20.6 955.05) rotate(-90)" font-size="22.2" fill="#1e1e1e" text-anchor="middle">Simpson</text>
<rect x="89.1" y="714.1" width="104.65" height="29.5" rx="4.2" ry="4.2" fill="#ffffff" fill-opacity="0.8" stroke="#555555" stroke-width="1.8"/>
<text x="94.9" y="733.8" font-size="18.45" fill="#222222">r = -0.155</text>
</g>
<g>
<g stroke="#cbcbcb" stroke-width="1.5" stroke-dasharray="3.75 2.08">
<line x1="733.7" y1="1225.5" x2="733.7" y2="679.8" stroke-dashoffset="4.56"/>
<line x1="854.3" y1="1225.5" x2="854.3" y2="679.8" stroke-dashoffset="4.56"/>
<line x1="974" y1="1225.5" x2="974" y2="679.8" stroke-dashoffset="4.56"/>
<line x1="1093.7" y1="1225.5" x2="1093.7" y2="679.8" stroke-dashoffset="4.56"/>
<line x1="1213.4" y1="1225.5" x2="1213.4" y2="679.8" stroke-dashoffset="4.56"/>
<line x1="719.9" y1="1210.3" x2="1290.5" y2="1210.3"/>
<line x1="719.9" y1="1145" x2="1290.5" y2="1145"/>
<line x1="719.9" y1="1078.4" x2="1290.5" y2="1078.4"/>
<line x1="719.9" y1="1012.6" x2="1290.5" y2="1012.6"/>
<line x1="719.9" y1="946" x2="1290.5" y2="946"/>
<line x1="719.9" y1="879.8" x2="1290.5" y2="879.8"/>
<line x1="719.9" y1="813.2" x2="1290.5" y2="813.2"/>
<line x1="719.9" y1="746.6" x2="1290.5" y2="746.6"/>
<line x1="719.9" y1="681.1" x2="1290.5" y2="681.1"/>
</g>
<g fill="#d4a520" fill-opacity="0.76" stroke="#d4a520" stroke-opacity="0.76" stroke-width="1.0">
<circle cx="746" cy="740.9" r="5.0"/>
<circle cx="853.8" cy="747.45" r="5.0"/>
<circle cx="868.3" cy="740.9" r="5.0"/>
<circle cx="875.2" cy="747.45" r="5.0"/>
<circle cx="901.9" cy="767.43" r="5.0"/>
<circle cx="913.9" cy="780.75" r="5.0"/>
<circle cx="978.5" cy="780.75" r="5.0"/>
<circle cx="818.4" cy="800.73" r="5.0"/>
<circle cx="842.1" cy="800.73" r="5.0"/>
<circle cx="879.1" cy="800.73" r="5.0"/>
<circle cx="880.6" cy="800.73" r="5.0"/>
<circle cx="806.4" cy="807.39" r="5.0"/>
<circle cx="812" cy="807.39" r="5.0"/>
<circle cx="884.8" cy="807.39" r="5.0"/>
<circle cx="878.8" cy="807.39" r="5.0"/>
<circle cx="808" cy="814.05" r="5.0"/>
<circle cx="854.1" cy="820.71" r="5.0"/>
<circle cx="854.1" cy="834.03" r="5.0"/>
<circle cx="878.1" cy="834.03" r="5.0"/>
<circle cx="898.8" cy="827.37" r="5.0"/>
<circle cx="902.8" cy="827.37" r="5.0"/>
<circle cx="837.4" cy="840.69" r="5.0"/>
<circle cx="811" cy="847.35" r="5.0"/>
<circle cx="937.5" cy="900.51" r="5.0"/>
<circle cx="901.9" cy="926.99" r="5.0"/>
<circle cx="998" cy="893.89" r="5.0"/>
<circle cx="829.8" cy="1020.03" r="5.0"/>
<circle cx="937.5" cy="1020.03" r="5.0"/>
<circle cx="961.9" cy="986.81" r="5.0"/>
<circle cx="971.3" cy="980.15" r="5.0"/>
<circle cx="992.7" cy="1066.09" r="5.0"/>
<circle cx="892.1" cy="1092.57" r="5.0"/>
<circle cx="1038.7" cy="966.83" r="5.0"/>
<circle cx="1060.3" cy="980.15" r="5.0"/>
<circle cx="1086.7" cy="1000.13" r="5.0"/>
<circle cx="1062.2" cy="1013.45" r="5.0"/>
<circle cx="1180.2" cy="1006.79" r="5.0"/>
<circle cx="1166" cy="1026.61" r="5.0"/>
<circle cx="1041.5" cy="1039.77" r="5.0"/>
<circle cx="1069.9" cy="1046.35" r="5.0"/>
<circle cx="1115.1" cy="1052.93" r="5.0"/>
<circle cx="1147" cy="1059.51" r="5.0"/>
<circle cx="1129.9" cy="1072.67" r="5.0"/>
<circle cx="1137.1" cy="1079.25" r="5.0"/>
<circle cx="1098.7" cy="1079.25" r="5.0"/>
<circle cx="1096.1" cy="1085.91" r="5.0"/>
<circle cx="1132.1" cy="1119.21" r="5.0"/>
<circle cx="1144.1" cy="1125.87" r="5.0"/>
<circle cx="1264.2" cy="1112.55" r="5.0"/>
<circle cx="1019.7" cy="926.99" r="5.0"/>
</g>
<line x1="746" y1="744.93" x2="1264.2" y2="1161.69" stroke="#dd0000" stroke-width="4.3" stroke-linecap="square"/>
<polygon points="746,705.63 751.23,710.47 756.46,715.32 761.69,720.16 766.92,725 772.15,729.83 777.38,734.65 782.61,739.47 787.84,744.27 793.07,749.06 798.3,753.85 803.53,758.62 808.76,763.38 813.99,768.14 819.22,772.88 824.45,777.61 829.68,782.32 834.92,787.03 840.15,791.72 845.38,796.4 850.61,801.07 855.84,805.72 861.07,810.38 866.3,815.06 871.53,819.75 876.76,824.44 881.99,829.13 887.22,833.83 892.45,838.52 897.68,843.21 902.91,847.88 908.14,852.55 913.37,857.2 918.6,861.8 923.83,866.39 929.06,870.95 934.29,875.48 939.52,879.98 944.75,884.45 949.98,888.88 955.21,893.27 960.44,897.62 965.67,901.92 970.9,906.17 976.13,910.37 981.36,914.57 986.59,918.76 991.82,922.95 997.05,927.14 1002.28,931.35 1007.52,935.56 1012.75,939.77 1017.98,943.97 1023.21,948.17 1028.44,952.37 1033.67,956.57 1038.9,960.76 1044.13,964.95 1049.36,969.14 1054.59,973.33 1059.82,977.52 1065.05,981.7 1070.28,985.88 1075.51,990.06 1080.74,994.21 1085.97,998.34 1091.2,1002.46 1096.43,1006.58 1101.66,1010.64 1106.89,1014.64 1112.12,1018.59 1117.35,1022.49 1122.58,1026.34 1127.81,1030.16 1133.04,1033.93 1138.27,1037.68 1143.5,1041.39 1148.73,1045.08 1153.96,1048.74 1159.19,1052.39 1164.42,1056.06 1169.65,1059.73 1174.88,1063.4 1180.12,1067.06 1185.35,1070.73 1190.58,1074.4 1195.81,1078.08 1201.04,1081.78 1206.27,1085.49 1211.5,1089.22 1216.73,1092.97 1221.96,1096.71 1227.19,1100.44 1232.42,1104.17 1237.65,1107.89 1242.88,1111.6 1248.11,1115.23 1253.34,1118.84 1258.57,1122.46 1263.8,1126.07 1263.8,1199.37 1258.57,1194.47 1253.34,1189.57 1248.11,1184.69 1242.88,1179.81 1237.65,1174.87 1232.42,1169.95 1227.19,1165.04 1221.96,1160.17 1216.73,1155.32 1211.5,1150.49 1206.27,1145.66 1201.04,1140.81 1195.81,1135.95 1190.58,1131.07 1185.35,1126.19 1180.12,1121.31 1174.88,1116.43 1169.65,1111.56 1164.42,1106.7 1159.19,1101.87 1153.96,1097.1 1148.73,1092.35 1143.5,1087.63 1138.27,1082.95 1133.04,1078.3 1127.81,1073.7 1122.58,1069.15 1117.35,1064.64 1112.12,1060.19 1106.89,1055.81 1101.66,1051.48 1096.43,1047.23 1091.2,1043.04 1085.97,1038.86 1080.74,1034.68 1075.51,1030.47 1070.28,1026.24 1065.05,1022.01 1059.82,1017.79 1054.59,1013.56 1049.36,1009.33 1044.13,1005.1 1038.9,1000.88 1033.67,996.65 1028.44,992.42 1023.21,988.2 1017.98,983.97 1012.75,979.75 1007.52,975.52 1002.28,971.3 997.05,967.07 991.82,962.87 986.59,958.67 981.36,954.47 976.13,950.27 970.9,946.08 965.67,941.94 960.44,937.83 955.21,933.77 949.98,929.74 944.75,925.75 939.52,921.79 934.29,917.87 929.06,913.97 923.83,910.1 918.6,906.26 913.37,902.44 908.14,898.61 902.91,894.8 897.68,891 892.45,887.22 887.22,883.45 881.99,879.69 876.76,875.93 871.53,872.17 866.3,868.42 861.07,864.67 855.84,860.91 850.61,857.15 845.38,853.43 840.15,849.74 834.92,846.08 829.68,842.45 824.45,838.85 819.22,835.27 813.99,831.72 808.76,828.2 803.53,824.71 798.3,821.23 793.07,817.78 787.84,814.35 782.61,810.94 777.38,807.54 772.15,804.17 766.92,800.81 761.69,797.46 756.46,794.13 751.23,790.81 746,787.53" fill="rgb(192,5,24)" fill-opacity="0.16"/>
<path d="M733.7 1225.5V1219.2M854.3 1225.5V1219.2M974 1225.5V1219.2M1093.7 1225.5V1219.2M1213.4 1225.5V1219.2M719.9 1210.3H726.2M719.9 1145H726.2M719.9 1078.4H726.2M719.9 1012.6H726.2M719.9 946H726.2M719.9 879.8H726.2M719.9 813.2H726.2M719.9 746.6H726.2M719.9 681.1H726.2" stroke="#444444" stroke-width="1.4" fill="none"/>
<path d="M719.9 680.8 V1225.5 H1289.5" fill="none" stroke="#262626" stroke-width="2.0" stroke-linecap="square"/>
<text x="733.7" y="1248.5" font-size="21.8" fill="#1e1e1e" text-anchor="middle">−25</text>
<text x="854.3" y="1248.5" font-size="21.8" fill="#1e1e1e" text-anchor="middle">−20</text>
<text x="974" y="1248.5" font-size="21.8" fill="#1e1e1e" text-anchor="middle">−15</text>
<text x="1093.7" y="1248.5" font-size="21.8" fill="#1e1e1e" text-anchor="middle">−10</text>
<text x="1213.4" y="1248.5" font-size="21.8" fill="#1e1e1e" text-anchor="middle">−5</text>
<text x="713.1" y="1218.2" font-size="21.8" fill="#1e1e1e" text-anchor="end">10</text>
<text x="713.1" y="1152.9" font-size="21.8" fill="#1e1e1e" text-anchor="end">20</text>
<text x="713.1" y="1086.3" font-size="21.8" fill="#1e1e1e" text-anchor="end">30</text>
<text x="713.1" y="1020.5" font-size="21.8" fill="#1e1e1e" text-anchor="end">40</text>
<text x="713.1" y="953.9" font-size="21.8" fill="#1e1e1e" text-anchor="end">50</text>
<text x="713.1" y="887.7" font-size="21.8" fill="#1e1e1e" text-anchor="end">60</text>
<text x="713.1" y="821.1" font-size="21.8" fill="#1e1e1e" text-anchor="end">70</text>
<text x="713.1" y="754.5" font-size="21.8" fill="#1e1e1e" text-anchor="end">80</text>
<text x="713.1" y="689" font-size="21.8" fill="#1e1e1e" text-anchor="end">90</text>
<text x="1005.2" y="669.2" font-size="22.2" fill="#303030" text-anchor="middle">GLS vs Simpson</text>
<text x="1005.2" y="1277.7" font-size="22.2" fill="#1e1e1e" text-anchor="middle">GLS</text>
<text transform="translate(674.5 955.05) rotate(-90)" font-size="22.2" fill="#1e1e1e" text-anchor="middle">Simpson</text>
<rect x="743" y="714.1" width="104.65" height="29.5" rx="4.2" ry="4.2" fill="#ffffff" fill-opacity="0.8" stroke="#555555" stroke-width="1.8"/>
<text x="748.8" y="733.8" font-size="18.45" fill="#222222">r = -0.810</text>
</g>
</g>
</svg>
</body></html>
